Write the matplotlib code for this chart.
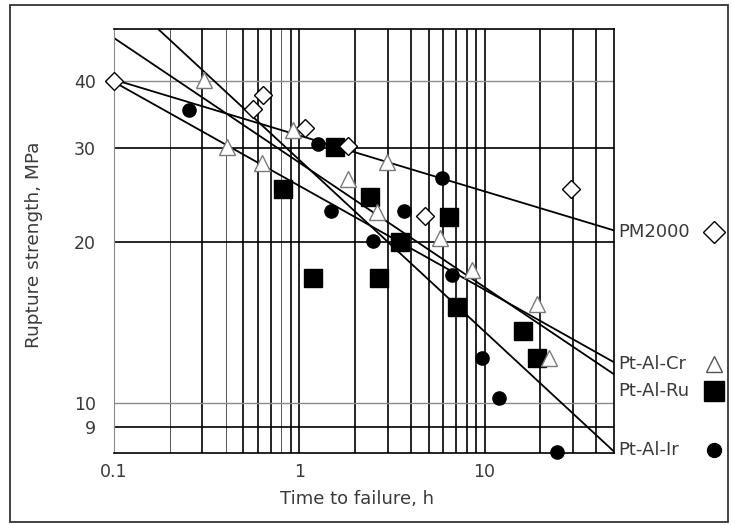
import matplotlib
matplotlib.use("Agg")
import matplotlib.pyplot as plt
from matplotlib.patches import Rectangle
from matplotlib.ticker import FixedLocator, FixedFormatter, NullLocator
import matplotlib.transforms as mtransforms


# Creep rupture data: time to failure (h) vs rupture strength (MPa)
pm_t = [0.1, 0.56, 0.64, 1.08, 1.83, 4.8, 29.4]
pm_s = [40.0, 35.5, 37.6, 32.7, 30.2, 22.3, 25.1]

cr_t = [0.305, 0.406, 0.628, 0.923, 1.83, 2.96, 2.62, 5.72, 8.51, 19.3, 22.4]
cr_s = [40.2, 30.1, 28.1, 32.4, 26.2, 28.2, 22.7, 20.3, 17.7, 15.3, 12.1]

ru_t = [0.815, 1.18, 1.55, 2.40, 2.68, 3.48, 6.40, 7.06, 16.2, 19.3]
ru_s = [25.1, 17.1, 30.1, 24.2, 17.1, 20.0, 22.2, 15.1, 13.6, 12.1]

ir_t = [0.254, 1.26, 1.48, 2.49, 3.66, 5.87, 6.64, 9.75, 11.9, 24.7]
ir_s = [35.3, 30.5, 22.8, 20.1, 22.8, 26.3, 17.3, 12.1, 10.2, 8.1]

# end points of the fitted trend lines
pm_fit_t, pm_fit_s = [0.1, 50], [40.2, 21.0]
cr_fit_t, cr_fit_s = [0.1, 50], [39.8, 11.9]
ru_fit_t, ru_fit_s = [0.1, 50], [48.1, 11.3]
ir_fit_t, ir_fit_s = [0.173, 50], [50.0, 8.1]

x_grid = [0.2, 0.3, 0.4, 0.5, 0.6, 0.7, 0.8, 0.9, 1,
          2, 3, 4, 5, 6, 7, 8, 9, 10, 20, 30, 40]
x_grid_light = [0.2, 0.4, 0.8]
y_grid = [9, 10, 20, 30, 40]
y_grid_light = [10, 40]

x_ticks = [0.1, 1, 10]
x_ticklabels = ["0.1", "1", "10"]
y_ticks = [9, 10, 20, 30, 40]
y_ticklabels = ["9", "10", "20", "30", "40"]

TXT = "#3a3a3a"
plt.rcParams["font.family"] = "DejaVu Sans"

fig = plt.figure(figsize=(7.32, 5.25), dpi=100)
ax = fig.add_axes([114 / 732, 1 - 453 / 525, 500 / 732, 424 / 525])
ax.set_xscale("log")
ax.set_yscale("log")
ax.set_xlim(0.1, 50)
ax.set_ylim(8.05, 50)

for x in x_grid:
    if x in x_grid_light:
        ax.axvline(x, color="#555555", lw=0.7, zorder=1)
    else:
        ax.axvline(x, color="black", lw=1.2, zorder=1)
for y in y_grid:
    if y in y_grid_light:
        ax.axhline(y, color="#8a8a8a", lw=1.0, zorder=1)
    else:
        ax.axhline(y, color="black", lw=1.2, zorder=1)

# trend lines
for t, s in [(pm_fit_t, pm_fit_s), (cr_fit_t, cr_fit_s),
             (ru_fit_t, ru_fit_s), (ir_fit_t, ir_fit_s)]:
    ax.plot(t, s, color="black", lw=1.3, zorder=2, solid_capstyle="butt")

# data points
ax.plot(pm_t, pm_s, "D", ms=9.5, mfc="white", mec="black", mew=1.0,
        zorder=4, clip_on=False)
ax.plot(cr_t, cr_s, "^", ms=11, mfc="white", mec="#7a7a7a", mew=1.0,
        zorder=4, clip_on=False)
ax.plot(ru_t, ru_s, "s", ms=12.5, mfc="black", mec="black",
        zorder=3, clip_on=False)
ax.plot(ir_t, ir_s, "o", ms=9.5, mfc="black", mec="black",
        zorder=3, clip_on=False)

for sp in ax.spines.values():
    sp.set_color("black")
    sp.set_linewidth(1.2)
ax.spines["left"].set_color("#8a8a8a")
ax.spines["left"].set_linewidth(0.8)

ax.xaxis.set_major_locator(FixedLocator(x_ticks))
ax.xaxis.set_major_formatter(FixedFormatter(x_ticklabels))
ax.xaxis.set_minor_locator(NullLocator())
ax.yaxis.set_major_locator(FixedLocator(y_ticks))
ax.yaxis.set_major_formatter(FixedFormatter(y_ticklabels))
ax.yaxis.set_minor_locator(NullLocator())
ax.tick_params(axis="x", length=0, pad=7, labelsize=12.5, labelcolor=TXT)
ax.tick_params(axis="y", length=0, pad=13, labelsize=12.5, labelcolor=TXT)

fig.text(357 / 732, 1 - 499 / 525, "Time to failure, h", ha="center",
         va="center", fontsize=13, color=TXT)
fig.text(34 / 732, 1 - 245 / 525, "Rupture strength, MPa", ha="center",
         va="center", rotation=90, fontsize=13.3, color=TXT)

# series labels at the right end of each trend line
trans = mtransforms.blended_transform_factory(ax.transAxes, ax.transData)
labels = [
    ("PM2000", 20.9, "D", dict(ms=11, mfc="white", mec="black", mew=1.0)),
    ("Pt-Al-Cr", 11.8, "^", dict(ms=12, mfc="white", mec="#555555", mew=1.0)),
    ("Pt-Al-Ru", 10.5, "s", dict(ms=15, mfc="black", mec="black")),
    ("Pt-Al-Ir", 8.17, "o", dict(ms=10, mfc="black", mec="black")),
]
for name, yv, mk, kw in labels:
    ax.text(1.008, yv, name, transform=trans, ha="left", va="center",
            fontsize=13, color=TXT, clip_on=False)
    ax.plot([1.2], [yv], mk, transform=trans, clip_on=False, **kw)

# border round the whole figure
fig.patches.append(Rectangle((10 / 732, 1 - 522 / 525), 718 / 732, 517 / 525,
                             transform=fig.transFigure, fill=False,
                             edgecolor="#333333", lw=1.3))

fig.savefig("out.png", dpi=100)
